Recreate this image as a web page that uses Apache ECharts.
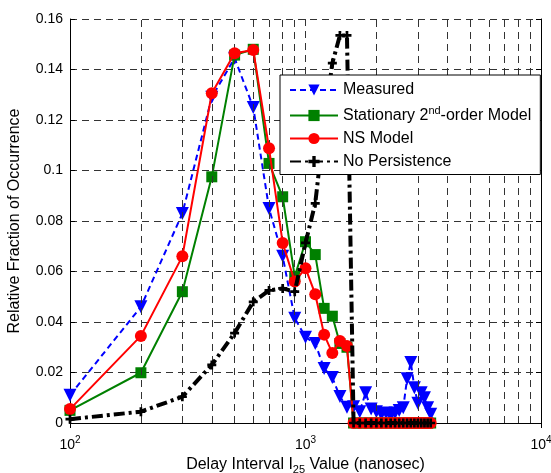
<!DOCTYPE html>
<html>
<head>
<meta charset="utf-8">
<script src="https://cdn.jsdelivr.net/npm/echarts@6/dist/echarts.min.js"></script>
<style>html,body{margin:0;padding:0;background:#fff}#c{width:551px;height:473px}</style>
</head>
<body>
<div id="c"></div>
<script>
const xValues = [100,200,300,400,500,600,700,800,900,1000,1100,1200,1300,1400,1500,1600,1700,1800,1900,2000,2100,2200,2300,2400,2500,2600,2700,2800,2900,3000,3100,3200,3300,3400];
const measured = [0.011,0.046,0.083,0.129,0.1445,0.125,0.085,0.066,0.0415,0.034,0.0315,0.0216,0.018,0.0105,0.0062,0.0064,0.0045,0.012,0.0055,0.0045,0.0035,0.004,0.003,0.004,0.005,0.006,0.0175,0.024,0.014,0.0078,0.012,0.010,0.006,0.0035];
const stationary = [0.005,0.0199,0.052,0.0975,0.1457,0.148,0.1028,0.0896,0.058,0.0718,0.0667,0.0454,0.0423,0.0315,0.030,0,0,0,0,0,0,0,0,0,0,0,0,0,0,0,0,0,0,0];
const nsModel = [0.0055,0.0345,0.066,0.1306,0.1464,0.1477,0.1088,0.0713,0.056,0.0613,0.051,0.035,0.0277,0.0325,0.0305,0,0,0,0,0,0,0,0,0,0,0,0,0,0,0,0,0,0,0];
const noPersistence = [0.0015,0.0045,0.0104,0.023,0.0356,0.048,0.0525,0.0533,0.052,0.0713,0.087,0.118,0.1425,0.1535,0.1535,0,0,0,0,0,0,0,0,0,0,0,0,0,0,0,0,0,0,0];
const minorGridX = [200,300,400,500,600,700,800,900,2000,3000,4000,5000,6000,7000,8000,9000];
const yTicks = [0,0.02,0.04,0.06,0.08,0.1,0.12,0.14,0.16];
const seriesNames = ['Measured','Stationary 2nd-order Model','NS Model','No Persistence'];

const FONT = "'Liberation Sans', Arial, Helvetica, sans-serif";
const pair = arr => xValues.map((x,i)=>[x, arr[i]]);
const plusPath = 'path://M3.5,0H6.5V3.5H10V6.5H6.5V10H3.5V6.5H0V3.5H3.5Z';
const gridDash = {color:'#333', type:[7,5], width:1};

const chart = echarts.init(document.getElementById('c'), null, {renderer:'canvas'});
chart.setOption({
  animation:false,
  backgroundColor:'#fff',
  textStyle:{fontFamily:FONT},
  grid:{left:70, right:10, top:19, bottom:50, containLabel:false, outerBoundsMode:'none'},
  legend:{
    left:280, top:75, z:20,
    orient:'vertical',
    backgroundColor:'#fff',
    borderColor:'#000', borderWidth:1, borderRadius:0,
    padding:[7,9,5,9],
    itemGap:7,
    itemWidth:48, itemHeight:14,
    data: seriesNames,
    textStyle:{fontFamily:FONT, fontSize:16, color:'#000',
      rich:{sup:{fontSize:11, verticalAlign:'top', padding:[0,0,10,0], fontFamily:FONT, color:'#000'}}},
    formatter: n => n === seriesNames[1] ? 'Stationary 2{sup|nd}-order Model' : n
  },
  xAxis:[{
    type:'log', logBase:10, min:100, max:10000,
    name:'Delay Interval I{sub|25} Value (nanosec)',
    nameLocation:'middle', nameGap:31,
    nameTextStyle:{fontFamily:FONT, fontSize:16, color:'#000',
      rich:{sub:{fontSize:11, verticalAlign:'bottom', padding:[10,0,0,0], fontFamily:FONT, color:'#000'}}},
    axisLine:{show:true, lineStyle:{color:'#000', width:1}},
    axisTick:{show:true, inside:true, length:5, lineStyle:{color:'#000'}},
    axisLabel:{color:'#000', fontSize:14, fontFamily:FONT, margin:12,
      formatter: v => '10{sup|' + Math.round(Math.log10(v)) + '}',
      rich:{sup:{fontSize:10, verticalAlign:'top', padding:[0,0,10,0], fontFamily:FONT, color:'#000'}}},
    splitLine:{show:true, lineStyle:gridDash}
  },{
    type:'log', logBase:10, min:100, max:10000, position:'top',
    axisLine:{show:true, lineStyle:{color:'#000', width:1}},
    axisTick:{show:true, inside:true, length:5, lineStyle:{color:'#000'}},
    axisLabel:{show:false}, splitLine:{show:false}
  }],
  yAxis:[{
    type:'value', min:0, max:0.16, interval:0.02,
    name:'Relative Fraction of Occurrence',
    nameLocation:'middle', nameGap:47,
    nameTextStyle:{fontFamily:FONT, fontSize:16, color:'#000'},
    axisLine:{show:true, lineStyle:{color:'#000', width:1}},
    axisTick:{show:true, inside:true, length:5, lineStyle:{color:'#000'}},
    axisLabel:{color:'#000', fontSize:14, fontFamily:FONT, margin:7,
      formatter: v => { const t = yTicks.find(k => Math.abs(k-v) < 1e-9); return t === undefined ? '' : String(t); }},
    splitLine:{show:true, lineStyle:gridDash}
  },{
    type:'value', min:0, max:0.16, interval:0.02, position:'right',
    axisLine:{show:true, lineStyle:{color:'#000', width:1}},
    axisTick:{show:true, inside:true, length:5, lineStyle:{color:'#000'}},
    axisLabel:{show:false}, splitLine:{show:false}
  }],
  series:[
    {
      name:'grid-minor', type:'line', data:[], silent:true, z:1,
      markLine:{silent:true, symbol:'none', label:{show:false},
        lineStyle:gridDash,
        data: minorGridX.map(v => ({xAxis:v}))}
    },
    {
      name:seriesNames[0], type:'line', data:pair(measured), z:3,
      symbol:'triangle', symbolRotate:180, symbolSize:13,
      itemStyle:{color:'#0000ff'},
      lineStyle:{color:'#0000ff', width:2, type:[6,4]}
    },
    {
      name:seriesNames[1], type:'line', data:pair(stationary), z:4,
      symbol:'rect', symbolSize:11,
      itemStyle:{color:'#008000'},
      lineStyle:{color:'#008000', width:2}
    },
    {
      name:seriesNames[2], type:'line', data:pair(nsModel), z:5,
      symbol:'circle', symbolSize:12,
      itemStyle:{color:'#ff0000'},
      lineStyle:{color:'#ff0000', width:2}
    },
    {
      name:seriesNames[3], type:'line', data:pair(noPersistence), z:6,
      symbol:plusPath, symbolSize:9,
      itemStyle:{color:'#000'},
      lineStyle:{color:'#000', width:4, type:[11,4,3,4]}
    }
  ]
});
</script>
</body>
</html>
